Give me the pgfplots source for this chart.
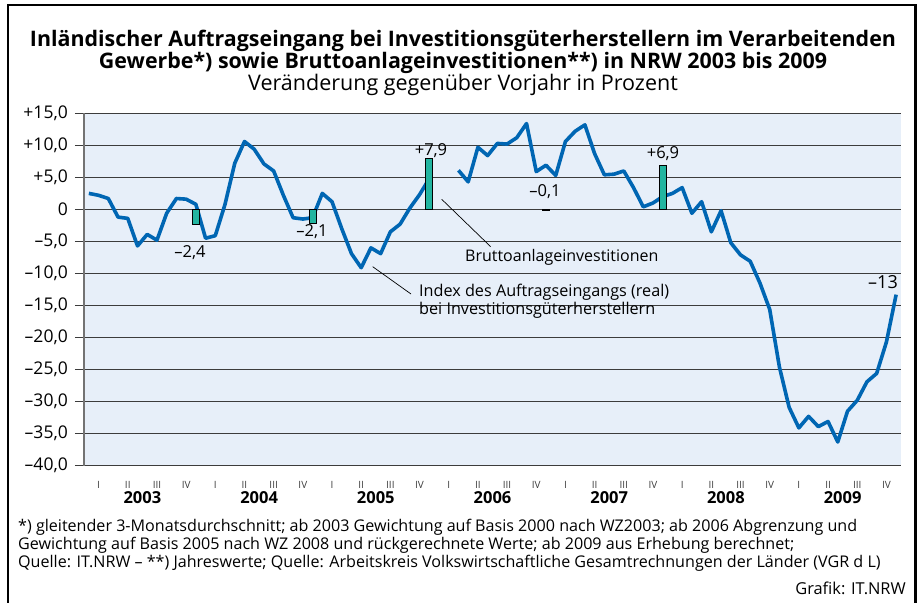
\documentclass[border=0pt]{standalone}
\usepackage{fontspec}
\setmainfont{Open Sans}
\usepackage{pgfplots}
\pgfplotsset{compat=1.18}
\definecolor{bgblue}{HTML}{E7EFF9}
\definecolor{lineblue}{HTML}{0066B3}
\definecolor{barteal}{HTML}{22B5A0}
\definecolor{gridgray}{HTML}{3C3C3C}
\pgfplotstableread{
x y
0.5 2.5
1.5 2.2
2.5 1.7
3.5 -1.2
4.5 -1.4
5.5 -5.7
6.5 -3.9
7.5 -4.8
8.5 -0.6
9.5 1.7
10.5 1.6
11.5 0.8
12.5 -4.5
13.5 -4.1
14.5 0.8
15.5 7.2
16.5 10.6
17.5 9.4
18.5 7.1
19.5 6.0
20.5 2.2
21.5 -1.3
22.5 -1.5
23.5 -1.3
24.5 2.5
25.5 1.2
26.5 -3.0
27.5 -6.9
28.5 -9.1
29.5 -6.0
30.5 -6.9
31.5 -3.5
32.5 -2.3
33.5 0.2
34.5 2.3
35.5 4.8
36.5 nan
37.5 nan
38.5 6.1
39.5 4.3
40.5 9.7
41.5 8.4
42.5 10.3
43.5 10.2
44.5 11.2
45.5 13.4
46.5 5.9
47.5 6.9
48.5 5.3
49.5 10.6
50.5 12.2
51.5 13.2
52.5 8.7
53.5 5.4
54.5 5.5
55.5 6.0
56.5 3.4
57.5 0.4
58.5 1.0
59.5 2.0
60.5 2.5
61.5 3.4
62.5 -0.6
63.5 1.2
64.5 -3.5
65.5 -0.2
66.5 -5.2
67.5 -7.1
68.5 -8.1
69.5 -11.5
70.5 -15.6
71.5 -24.6
72.5 -30.9
73.5 -34.1
74.5 -32.3
75.5 -33.9
76.5 -33.1
77.5 -36.3
78.5 -31.5
79.5 -29.8
80.5 -26.9
81.5 -25.6
82.5 -20.7
83.5 -13.3
}\idxdata
\pgfplotstableread{
x y
11.5 -2.4
23.5 -2.1
35.5 7.9
47.5 -0.1
59.5 6.9
}\bardata
\begin{document}
\begin{tikzpicture}
\useasboundingbox (0,0) rectangle (922pt,603pt);
\begin{axis}[
  at={(84pt,137.3pt)}, anchor=south west,
  scale only axis, width=817pt, height=352.4pt,
  xmin=0, xmax=84, ymin=-40, ymax=15,
  axis background/.style={fill=bgblue},
  axis line style={draw=none},
  ytick={-40,-35,-30,-25,-20,-15,-10,-5,0,5,10,15},
  yticklabels={{\textendash40,0},{\textendash35,0},{\textendash30,0},{\textendash25,0},{\textendash20,0},{\textendash15,0},{\textendash10,0},{\textendash5,0},0,{+5,0},{+10,0},{+15,0}},
  ytick pos=left, tick align=outside, major tick length=9pt,
  y tick style={draw=gridgray, line width=1.1pt},
  ymajorgrids, grid style={draw=gridgray, line width=1.1pt},
  yticklabel style={font=\fontsize{17.5}{17.5}\selectfont, inner sep=0pt, xshift=-7pt},
  xtick={1.5,4.5,7.5,10.5,13.5,16.5,19.5,22.5,25.5,28.5,31.5,34.5,37.5,40.5,43.5,46.5,49.5,52.5,55.5,58.5,61.5,64.5,67.5,70.5,73.5,76.5,79.5,82.5},
  xticklabels={I,II,III,IV,I,II,III,IV,I,II,III,IV,I,II,III,IV,I,II,III,IV,I,II,III,IV,I,II,III,IV},
  x tick style={draw=none},
  xticklabel style={font=\fontsize{10}{10}\selectfont, text=gridgray, inner sep=0pt, yshift=-6pt},
  clip=false,
  after end axis/.code={\draw[draw=gray!90!black, line width=2pt] (rel axis cs:0,0) -- (rel axis cs:0,1);},
]
\addplot[draw=lineblue, line width=3.6pt, line join=round, unbounded coords=jump] table[x=x,y=y] {\idxdata};
\addplot[ybar, bar width=7pt, fill=barteal, draw=black, line width=0.6pt] table[x=x,y=y] {\bardata};
\end{axis}
\begin{scope}[x=1pt, y=-1pt, shift={(0pt,603pt)}]
  % frame
  \draw[line width=2.7pt] (8,603) -- (8,5) -- (915.5,5) -- (915.5,603);
  % titles
  \node[font=\bfseries\fontsize{21.4}{21.4}\selectfont, anchor=base] at (463,46.5) {Inländischer Auftragseingang bei Investitionsgüterherstellern im Verarbeitenden};
  \node[font=\bfseries\fontsize{21.4}{21.4}\selectfont, anchor=base] at (463,68.3) {Gewerbe*) sowie Bruttoanlageinvestitionen**) in NRW 2003 bis 2009};
  \node[font=\fontsize{21.5}{21.5}\selectfont, anchor=base] at (463,90.5) {Veränderung gegenüber Vorjahr in Prozent};
  % years
  \foreach \yr [count=\i from 0] in {2003,2004,2005,2006,2007,2008,2009}
    \node[font=\bfseries\fontsize{16.5}{16.5}\selectfont] at ({84+116.7*\i+58.4},498) {\yr};
  % value labels
  \node[font=\fontsize{16.5}{16.5}\selectfont] at (190,253) {\textendash2,4};
  \node[font=\fontsize{16.5}{16.5}\selectfont] at (312,231.7) {\textendash2,1};
  \node[font=\fontsize{16.5}{16.5}\selectfont] at (431,151) {+7,9};
  \node[font=\fontsize{16.5}{16.5}\selectfont] at (545,191.7) {\textendash0,1};
  \node[font=\fontsize{16.5}{16.5}\selectfont] at (663,153.3) {+6,9};
  \node[font=\fontsize{18}{18}\selectfont] at (883,281.7) {\textendash13};
  % series labels
  \draw[line width=0.7pt] (441.7,199.3) -- (490.7,246.7);
  \node[font=\fontsize{16}{16}\selectfont, anchor=west, inner sep=0pt] at (465,257) {Bruttoanlageinvestitionen};
  \draw[line width=0.7pt] (372.7,266.7) -- (411,294);
  \node[font=\fontsize{16.2}{16.2}\selectfont, anchor=west, inner sep=0pt] at (419,292.7) {Index des Auftragseingangs (real)};
  \node[font=\fontsize{16.2}{16.2}\selectfont, anchor=west, inner sep=0pt] at (419,310) {bei Investitionsgüterherstellern};
  % footnotes
  \node[font=\fontsize{16.1}{16.1}\selectfont, anchor=west, inner sep=0pt] at (18,527) {*) gleitender 3-Monatsdurchschnitt; ab 2003 Gewichtung auf Basis 2000 nach WZ2003; ab 2006 Abgrenzung und};
  \node[font=\fontsize{16.1}{16.1}\selectfont, anchor=west, inner sep=0pt] at (18,545) {Gewichtung auf Basis 2005 nach WZ 2008 und rückgerechnete Werte; ab 2009 aus Erhebung berechnet;};
  \node[font=\fontsize{16.1}{16.1}\selectfont, anchor=west, inner sep=0pt] at (18,563) {Quelle: IT.NRW \textendash{} **) Jahreswerte; Quelle: Arbeitskreis Volkswirtschaftliche Gesamtrechnungen der Länder (VGR d L)};
  \node[font=\fontsize{16.4}{16.4}\selectfont, anchor=east, inner sep=0pt] at (906,588) {Grafik: IT.NRW};
\end{scope}
\end{tikzpicture}
\end{document}
